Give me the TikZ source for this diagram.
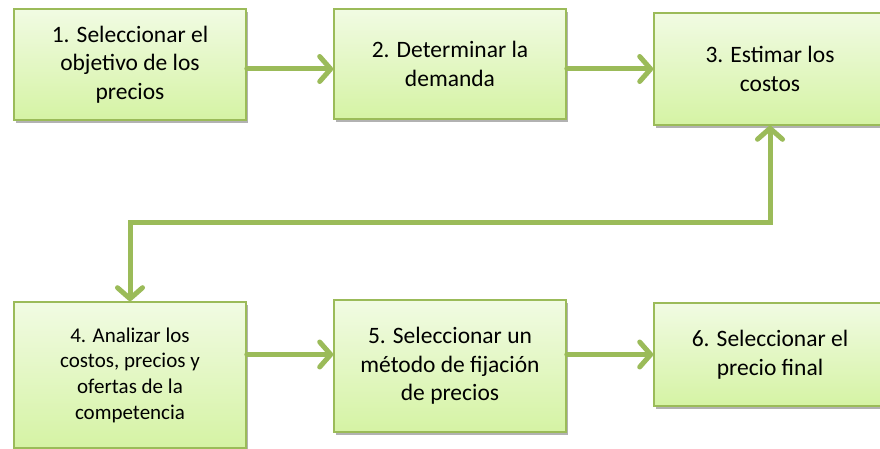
\documentclass[tikz,border=0pt]{standalone}
\usepackage{fontspec}
\setmainfont{Carlito}
\usepackage{tikz}
\usetikzlibrary{arrows.meta,shadows}

\definecolor{stepline}{RGB}{155,187,89}
\definecolor{steptop}{RGB}{241,251,227}
\definecolor{stepbottom}{RGB}{213,243,164}

\begin{document}
\begin{tikzpicture}[x=1pt,y=-1pt,
   stepbox/.style={draw=stepline,line width=1.6pt,top color=steptop,bottom color=stepbottom,
      minimum width=232pt,align=center,inner sep=0pt,
      font=\fontsize{23.5}{28.5}\selectfont,
      drop shadow={shadow xshift=1.5pt,shadow yshift=-3pt,opacity=0.3,fill=black}},
   flow/.style={draw=stepline,line width=5pt,line cap=round,
      -{Straight Barb[length=11pt,width=25pt,round]}}]
   \useasboundingbox (0,0) rectangle (880,449);

   % upper row
   \node[stepbox,minimum height=111pt] (sel) at (130,64.5) {1. Seleccionar el\\objetivo de los\\precios};
   \node[stepbox,minimum height=110pt] (dem) at (450,64) {2. Determinar la\\demanda};
   \node[stepbox,minimum height=112pt] (cos) at (770,69) {3. Estimar los\\costos};

   % lower row
   \node[stepbox,minimum height=146pt,font=\fontsize{21}{25.7}\selectfont] (ana) at (130,375)
      {4. Analizar los\\costos, precios y\\ofertas de la\\competencia};
   \node[stepbox,minimum height=132pt] (met) at (450,366) {5. Seleccionar un\\método de fijación\\de precios};
   \node[stepbox,minimum height=103pt] (fin) at (770,354.5) {6. Seleccionar el\\precio final};

   \coordinate (turn) at (0,222);

   \draw[flow] (sel.east |- cos.west) -- (dem.west |- cos.west);
   \draw[flow] (dem.east |- cos.west) -- (cos.west);
   \draw[flow,{Straight Barb[length=11pt,width=25pt,round]}-{Straight Barb[length=11pt,width=25pt,round]}]
      (cos.south) -- (cos.south |- turn) -- (ana.north |- turn) -- (ana.north);
   \draw[flow] (ana.east |- fin.west) -- (met.west |- fin.west);
   \draw[flow] (met.east |- fin.west) -- (fin.west);
\end{tikzpicture}
\end{document}
